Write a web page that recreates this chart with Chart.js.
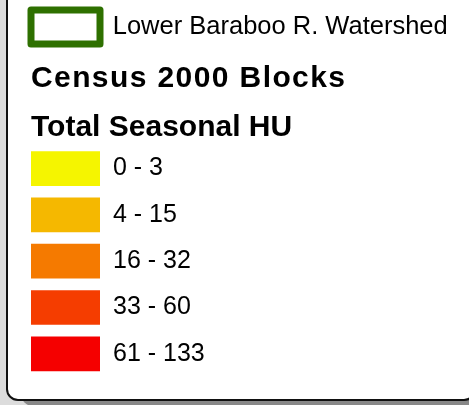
<!DOCTYPE html>
<html><head><meta charset="utf-8">
<script src="https://cdn.jsdelivr.net/npm/chart.js@4/dist/chart.umd.min.js"></script>
<style>
html,body{margin:0;padding:0;width:469px;height:405px;overflow:hidden;background:#dcdcdc;}
#panel{position:absolute;left:6px;top:-20px;width:470px;height:421px;border:2px solid #111;border-radius:12px;background:#fff;box-shadow:15px 5px 0 #888888;box-sizing:border-box}
#c{position:absolute;left:0;top:0}
</style></head><body>
<div id="panel"></div>
<canvas id="c" width="469" height="405"></canvas>
<script>
const watershedLabel = 'Lower Baraboo R. Watershed';
const watershedColor = '#2e7000';
const headingTitle = 'Census 2000 Blocks';
const headingSubtitle = 'Total Seasonal HU';
const classLabels = ['0 - 3', '4 - 15', '16 - 32', '33 - 60', '61 - 133'];
const classColors = ['#f5f500', '#f5b800', '#f57a00', '#f53d00', '#f50000'];
const swatchValues = [1, 1, 1, 1, 1];

const FAMILY = "'Liberation Sans', Arial, sans-serif";

// letter spacing for the first heading; legend drawn without clipping so the thick outline shows fully
const legendTweaks = {
  id: 'legendTweaks',
  afterLayout(chart) {
    const box = chart.titleBlock;
    if (box && !box._spaced) {
      const orig = box.draw;
      box.draw = function () {
        const ctx = this.ctx;
        ctx.save();
        try { ctx.letterSpacing = '1.4px'; } catch (e) {}
        orig.apply(this, arguments);
        ctx.restore();
      };
      box._spaced = true;
    }
    const lg = chart.legend;
    if (lg && !lg._noclip && typeof lg._draw === 'function') {
      lg.draw = function () { if (this.options.display) this._draw(); };
      lg._noclip = true;
    }
  }
};

new Chart(document.getElementById('c'), {
  type: 'bar',
  data: {
    labels: classLabels,
    datasets: [{
      label: headingSubtitle,
      data: swatchValues,
      backgroundColor: classColors,
      borderWidth: 0,
      barThickness: 34
    }]
  },
  options: {
    responsive: false,
    animation: false,
    devicePixelRatio: 1,
    indexAxis: 'y',
    layout: { padding: { left: 31, top: 10, right: 0, bottom: 23.4 } },
    scales: {
      x: { display: false, min: 0, max: 1 },
      y: {
        position: 'right',
        grid: { display: false, drawTicks: false },
        border: { display: false },
        ticks: { color: '#000', font: { family: FAMILY, size: 25 }, padding: 13, crossAlign: 'near' },
        afterFit(s) { s.width = 369; }
      }
    },
    plugins: {
      legend: {
        position: 'top', align: 'start', weight: 3000,
        onClick: null,
        labels: {
          boxWidth: 69, boxHeight: 34, padding: 0, color: '#000',
          font: { family: FAMILY, size: 25.5 },
          generateLabels: () => [{
            text: watershedLabel, fillStyle: '#ffffff', strokeStyle: watershedColor,
            lineWidth: 7, lineJoin: 'round', hidden: false, datasetIndex: 0
          }]
        }
      },
      title: {
        display: true, text: headingTitle, align: 'start', color: '#000',
        font: { family: FAMILY, size: 30, weight: 'bold', lineHeight: 1.2 },
        padding: { top: 7, bottom: 3.5 }
      },
      subtitle: {
        display: true, text: headingSubtitle, align: 'start', color: '#000',
        font: { family: FAMILY, size: 30, weight: 'bold', lineHeight: 1.2 },
        padding: { top: 8.9, bottom: 0 }
      },
      tooltip: { enabled: false }
    }
  },
  plugins: [legendTweaks]
});
</script>
</body></html>
